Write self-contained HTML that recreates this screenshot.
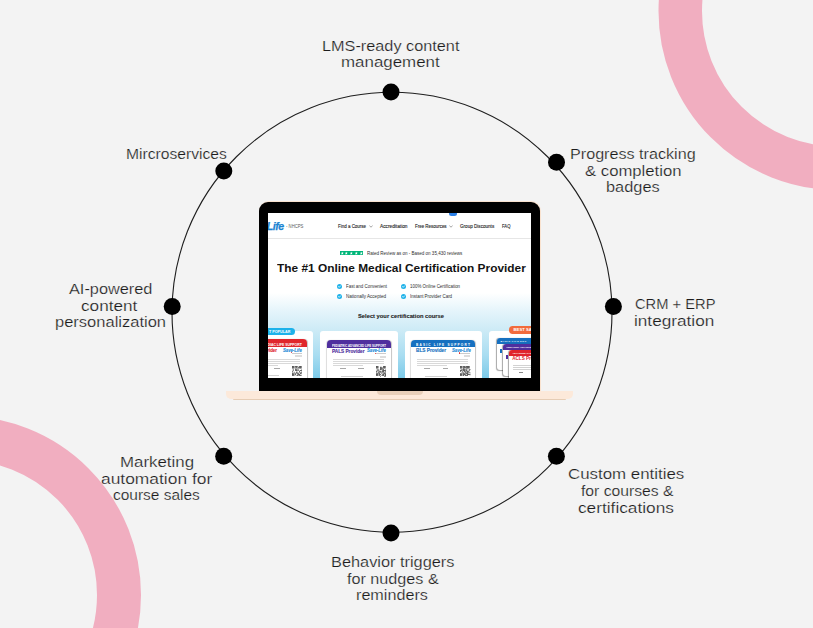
<!DOCTYPE html>
<html><head><meta charset="utf-8">
<style>
html,body{margin:0;padding:0;}
body{width:813px;height:628px;overflow:hidden;background:#f3f3f3;position:relative;font-family:"Liberation Sans",sans-serif;}
svg.bg{position:absolute;left:0;top:0;}
.l{position:absolute;white-space:pre;font-size:15.5px;line-height:20px;color:#1c1c1c;-webkit-text-stroke:0.22px #f3f3f3;transform-origin:0 0;}
.ft{position:absolute;white-space:pre;font-family:"Liberation Sans",sans-serif;transform-origin:0 0;}
.t{position:absolute;white-space:pre;font-size:4.3px;line-height:5px;color:#4a4a4a;}
.card{position:absolute;top:117.7px;height:60px;background:#fff;border-radius:3px;}
.cert{position:absolute;top:126.4px;height:50px;background:#fff;border:0.4px solid #d8d8d8;border-radius:3.5px 3.5px 0 0;overflow:hidden;}
.hd{height:8px;}
.hd2{position:absolute;white-space:pre;font:bold 3.6px/4px 'Liberation Sans';color:#fff;}
.pv{position:absolute;top:135.8px;white-space:pre;font:bold 5px/5px 'Liberation Sans';}
.sl{position:absolute;top:135.4px;white-space:pre;font:italic bold 4.6px/5px 'Liberation Sans';color:#1f86d3;}
.lines{position:absolute;top:146px;height:6px;background:repeating-linear-gradient(#bdbdbd 0 0.5px,transparent 0.5px 1.7px);}
</style></head><body>
<svg class="bg" width="813" height="628" viewBox="0 0 813 628">
  <circle cx="837.5" cy="11" r="157.25" fill="none" stroke="#f1aec0" stroke-width="43.5"/>
  <circle cx="-38" cy="595" r="157" fill="none" stroke="#f1aec0" stroke-width="44"/>
  <circle cx="392" cy="312.3" r="220" fill="none" stroke="#1e1e1e" stroke-width="1.1"/>
  <g fill="#000">
    <circle cx="391" cy="92.1" r="8.5"/>
    <circle cx="556.5" cy="162.2" r="8.5"/>
    <circle cx="613.4" cy="306.4" r="8.5"/>
    <circle cx="556.4" cy="456.2" r="8.5"/>
    <circle cx="391" cy="533.1" r="8.5"/>
    <circle cx="223.7" cy="456.2" r="8.5"/>
    <circle cx="172.2" cy="306.5" r="8.5"/>
    <circle cx="223.8" cy="171" r="8.5"/>
  </g>
</svg>
<div class="l" style="left:321.55px;top:36.0px;transform:scaleX(1.0492)">LMS-ready content</div>
<div class="l" style="left:340.61px;top:52.2px;transform:scaleX(1.0911)">management</div>
<div class="l" style="left:569.66px;top:144.4px;transform:scaleX(1.0420)">Progress tracking</div>
<div class="l" style="left:584.90px;top:161.0px;transform:scaleX(1.0775)">&amp; completion</div>
<div class="l" style="left:605.94px;top:177.2px;transform:scaleX(1.0551)">badges</div>
<div class="l" style="left:125.54px;top:143.9px;transform:scaleX(1.0091)">Mircroservices</div>
<div class="l" style="left:634.60px;top:294.0px;transform:scaleX(0.9482)">CRM + ERP</div>
<div class="l" style="left:634.44px;top:310.6px;transform:scaleX(1.1085)">integration</div>
<div class="l" style="left:68.65px;top:279.2px;transform:scaleX(1.0519)">AI-powered</div>
<div class="l" style="left:81.19px;top:296.2px;transform:scaleX(1.1080)">content</div>
<div class="l" style="left:54.58px;top:312.4px;transform:scaleX(1.0650)">personalization</div>
<div class="l" style="left:119.71px;top:451.6px;transform:scaleX(1.0879)">Marketing</div>
<div class="l" style="left:100.78px;top:468.5px;transform:scaleX(1.1224)">automation for</div>
<div class="l" style="left:113.20px;top:485.0px;transform:scaleX(0.9977)">course sales</div>
<div class="l" style="left:567.71px;top:464.2px;transform:scaleX(1.0886)">Custom entities</div>
<div class="l" style="left:580.50px;top:481.0px;transform:scaleX(1.0132)">for courses &amp;</div>
<div class="l" style="left:577.79px;top:497.8px;transform:scaleX(1.1129)">certifications</div>
<div class="l" style="left:330.95px;top:551.6px;transform:scaleX(1.0534)">Behavior triggers</div>
<div class="l" style="left:347.40px;top:568.5px;transform:scaleX(1.0432)">for nudges &amp;</div>
<div class="l" style="left:356.36px;top:584.8px;transform:scaleX(1.0426)">reminders</div>

<div style="position:absolute;left:258.6px;top:201.4px;width:282.2px;height:189.6px;background:#f9e2cf;border-radius:10px 10px 0 0;"></div>
<div style="position:absolute;left:259.4px;top:202.2px;width:280.6px;height:188.6px;background:#000;border-radius:9px 9px 0 0;"></div>
<div style="position:absolute;left:226px;top:390.7px;width:347px;height:8.6px;background:#fce9da;border-radius:0 0 5px 5px;"></div>
<div style="position:absolute;left:233px;top:398.6px;width:333px;height:1.6px;background:#e6cdb5;border-radius:0 0 3px 3px;"></div>
<div style="position:absolute;left:377px;top:390.7px;width:45.5px;height:4px;background:#e8cfb9;border-radius:0 0 4px 4px;"></div>
<div id="scr" style="position:absolute;left:268px;top:213px;width:263.2px;height:165px;overflow:hidden;background:#fff;">
  <div style="position:absolute;left:0;top:80px;width:264px;height:85px;background:linear-gradient(#fff 0px,#e6f5fb 17px,#cdebf6 37px,#a9ddf1 62px,#7ccae8 85px);"></div>
  <div style="position:absolute;left:0;top:25px;width:264px;height:0.6px;background:#e6e6e6;"></div>
  <div style="position:absolute;left:-1.2px;top:8.4px;font:italic bold 10.6px/10.6px 'Liberation Sans';color:#1a84d2;letter-spacing:-0.5px;-webkit-text-stroke:0.25px #1a84d2;">Life</div>
  <div style="position:absolute;left:180.6px;top:-2px;width:8.2px;height:4.6px;background:#2a7fe6;border-radius:2.5px;"></div>
  <div id="nh" class="ft" style="left:18.00px;top:11.75px;font-size:4.6px;line-height:4.6px;font-weight:normal;color:#5a5a5a;transform:scaleX(0.9211);">- NHCPS</div>
<div id="n1" class="ft" style="left:70.00px;top:10.51px;font-size:5.1px;line-height:5.1px;font-weight:normal;color:#262626;transform:scaleX(0.8750);-webkit-text-stroke:0.12px #262626;">Find a Course</div>
<div id="n2" class="ft" style="left:112.30px;top:10.51px;font-size:5.1px;line-height:5.1px;font-weight:normal;color:#262626;transform:scaleX(0.9337);-webkit-text-stroke:0.12px #262626;">Accreditation</div>
<div id="n3" class="ft" style="left:147.20px;top:10.51px;font-size:5.1px;line-height:5.1px;font-weight:normal;color:#262626;transform:scaleX(0.8717);-webkit-text-stroke:0.12px #262626;">Free Resources</div>
<div id="n4" class="ft" style="left:192.40px;top:10.51px;font-size:5.1px;line-height:5.1px;font-weight:normal;color:#262626;transform:scaleX(0.9014);-webkit-text-stroke:0.12px #262626;">Group Discounts</div>
<div id="n5" class="ft" style="left:234.30px;top:10.51px;font-size:5.1px;line-height:5.1px;font-weight:normal;color:#262626;transform:scaleX(0.8233);-webkit-text-stroke:0.12px #262626;">FAQ</div>
<div id="rt" class="ft" style="left:98.70px;top:38.75px;font-size:4.6px;line-height:4.6px;font-weight:normal;color:#2e2e2e;transform:scaleX(0.9847);">Rated Review as on - Based on 35,430 reviews</div>
<div id="ti" class="ft" style="left:8.70px;top:49.23px;font-size:11.6px;line-height:11.6px;font-weight:bold;color:#131313;transform:scaleX(1.0243);">The #1 Online Medical Certification Provider</div>
<div id="f1" class="ft" style="left:78.00px;top:72.25px;font-size:4.6px;line-height:4.6px;font-weight:normal;color:#2e2e2e;transform:scaleX(0.9668);">Fast and Convenient</div>
<div id="f2" class="ft" style="left:78.00px;top:82.45px;font-size:4.6px;line-height:4.6px;font-weight:normal;color:#2e2e2e;transform:scaleX(0.9911);">Nationally Accepted</div>
<div id="f3" class="ft" style="left:141.90px;top:72.25px;font-size:4.6px;line-height:4.6px;font-weight:normal;color:#2e2e2e;transform:scaleX(0.9663);">100% Online Certification</div>
<div id="f4" class="ft" style="left:141.90px;top:82.45px;font-size:4.6px;line-height:4.6px;font-weight:normal;color:#2e2e2e;transform:scaleX(0.9699);">Instant Provider Card</div>
<div id="sc" class="ft" style="left:89.90px;top:100.37px;font-size:6.2px;line-height:6.2px;font-weight:bold;color:#1a1a1a;transform:scaleX(0.9330);-webkit-text-stroke:0.1px #1a1a1a;">Select your certification course</div>
  <svg style="position:absolute;left:101.00px;top:12.00px" width="4" height="3" viewBox="0 0 4 3"><path d="M0.4 0.7 L2 2.2 L3.6 0.7" fill="none" stroke="#555" stroke-width="0.55"/></svg><svg style="position:absolute;left:181.00px;top:12.00px" width="4" height="3" viewBox="0 0 4 3"><path d="M0.4 0.7 L2 2.2 L3.6 0.7" fill="none" stroke="#555" stroke-width="0.55"/></svg>
  <div style="position:absolute;left:71.60px;top:37.90px;width:4.62px;height:4.4px;background:#00b67a;"><svg width="4.62" height="4.4" viewBox="0 0 10 10" style="position:absolute;left:0;top:0"><path d="M5 1.8 L5.9 4.1 L8.4 4.2 L6.5 5.8 L7.1 8.3 L5 6.9 L2.9 8.3 L3.5 5.8 L1.6 4.2 L4.1 4.1Z" fill="#fff"/></svg></div><div style="position:absolute;left:76.42px;top:37.90px;width:4.62px;height:4.4px;background:#00b67a;"><svg width="4.62" height="4.4" viewBox="0 0 10 10" style="position:absolute;left:0;top:0"><path d="M5 1.8 L5.9 4.1 L8.4 4.2 L6.5 5.8 L7.1 8.3 L5 6.9 L2.9 8.3 L3.5 5.8 L1.6 4.2 L4.1 4.1Z" fill="#fff"/></svg></div><div style="position:absolute;left:81.24px;top:37.90px;width:4.62px;height:4.4px;background:#00b67a;"><svg width="4.62" height="4.4" viewBox="0 0 10 10" style="position:absolute;left:0;top:0"><path d="M5 1.8 L5.9 4.1 L8.4 4.2 L6.5 5.8 L7.1 8.3 L5 6.9 L2.9 8.3 L3.5 5.8 L1.6 4.2 L4.1 4.1Z" fill="#fff"/></svg></div><div style="position:absolute;left:86.06px;top:37.90px;width:4.62px;height:4.4px;background:#00b67a;"><svg width="4.62" height="4.4" viewBox="0 0 10 10" style="position:absolute;left:0;top:0"><path d="M5 1.8 L5.9 4.1 L8.4 4.2 L6.5 5.8 L7.1 8.3 L5 6.9 L2.9 8.3 L3.5 5.8 L1.6 4.2 L4.1 4.1Z" fill="#fff"/></svg></div><div style="position:absolute;left:90.88px;top:37.90px;width:4.62px;height:4.4px;background:#00b67a;"><svg width="4.62" height="4.4" viewBox="0 0 10 10" style="position:absolute;left:0;top:0"><path d="M5 1.8 L5.9 4.1 L8.4 4.2 L6.5 5.8 L7.1 8.3 L5 6.9 L2.9 8.3 L3.5 5.8 L1.6 4.2 L4.1 4.1Z" fill="#fff"/></svg></div>
  <svg style="position:absolute;left:69.10px;top:70.80px" width="5" height="5" viewBox="0 0 10 10"><circle cx="5" cy="5" r="5" fill="#1db1e9"/><path d="M2.9 5.1 L4.4 6.6 L7.2 3.7" fill="none" stroke="#fff" stroke-width="1.6" stroke-linecap="round" stroke-linejoin="round"/></svg><svg style="position:absolute;left:69.10px;top:81.00px" width="5" height="5" viewBox="0 0 10 10"><circle cx="5" cy="5" r="5" fill="#1db1e9"/><path d="M2.9 5.1 L4.4 6.6 L7.2 3.7" fill="none" stroke="#fff" stroke-width="1.6" stroke-linecap="round" stroke-linejoin="round"/></svg><svg style="position:absolute;left:133.00px;top:70.80px" width="5" height="5" viewBox="0 0 10 10"><circle cx="5" cy="5" r="5" fill="#1db1e9"/><path d="M2.9 5.1 L4.4 6.6 L7.2 3.7" fill="none" stroke="#fff" stroke-width="1.6" stroke-linecap="round" stroke-linejoin="round"/></svg><svg style="position:absolute;left:133.00px;top:81.00px" width="5" height="5" viewBox="0 0 10 10"><circle cx="5" cy="5" r="5" fill="#1db1e9"/><path d="M2.9 5.1 L4.4 6.6 L7.2 3.7" fill="none" stroke="#fff" stroke-width="1.6" stroke-linecap="round" stroke-linejoin="round"/></svg>
  <div class="card" style="left:-20px;width:65px;"></div>
  <div class="card" style="left:52.3px;width:77.3px;"></div>
  <div class="card" style="left:136.7px;width:77px;"></div>
  <div style="position:absolute;left:-10px;top:114.7px;width:36.5px;height:7.2px;background:#1db2ea;border-radius:3.6px;"></div>
  <div id="mp" class="ft" style="left:0.6px;top:116.6px;font:bold 4.4px/4.4px 'Liberation Sans';color:#fff;transform:scaleX(0.8394);">T POPULAR</div>
  <div style="position:absolute;left:-25.10px;top:126.40px;width:63.7px;height:40px;background:#fff;border-radius:4px 4px 0 0;box-shadow:0.6px 0 0.8px rgba(0,0,0,.22),-0.6px 0 0.8px rgba(0,0,0,.12);"></div><div style="position:absolute;left:-25.10px;top:126.40px;width:63.7px;height:7.7px;background:#e0262c;border-radius:4px 4px 0 0;"></div><div id="c1h" class="ft" style="left:-8.00px;top:131.00px;font:bold 3.3px/3.3px Liberation Sans;color:#fff;transform:scaleX(1.0443);">CARDIAC LIFE SUPPORT</div><div id="c1p" class="ft" style="left:-21.60px;top:134.90px;font:bold 5.6px/5.6px Liberation Sans;color:#e0262c;-webkit-text-stroke:0.15px #e0262c;transform:scaleX(0.7852);">ACLS Provider</div><div id="c1s" class="ft" style="left:15.20px;top:135.60px;font:italic bold 4.6px/4.6px Liberation Sans;color:#1d8ad6;-webkit-text-stroke:0.12px #1d8ad6;transform:scaleX(0.9199);">Save-Life</div><div style="position:absolute;left:22.50px;top:139.20px;width:1.3px;height:1.3px;border-radius:50%;background:#e0262c;"></div><div style="position:absolute;left:23.90px;top:139.80px;width:10px;height:0.4px;background:#ccc;"></div><div style="position:absolute;left:27.40px;top:141.90px;width:6.5px;height:1.6px;border:0.3px solid #ddd;box-sizing:border-box;background:linear-gradient(#fff 0 0.5px,#aaa 0.5px 1.1px,#fff 1.1px);"></div><div style="position:absolute;left:-19.70px;top:145.50px;width:51.6px;height:0.6px;background:#d9d9d9;"></div><div style="position:absolute;left:-19.70px;top:147.60px;width:51.6px;height:0.6px;background:#d9d9d9;"></div><div style="position:absolute;left:-19.70px;top:149.70px;width:51.6px;height:0.6px;background:#d9d9d9;"></div><div style="position:absolute;left:-19.70px;top:151.80px;width:30px;height:0.6px;background:#d9d9d9;"></div><div style="position:absolute;left:-12.50px;top:154.60px;width:6.2px;height:0.8px;background:#a8a8a8;"></div><div style="position:absolute;left:6.10px;top:154.60px;width:5.8px;height:0.8px;background:#a8a8a8;"></div><div style="position:absolute;left:-11.10px;top:162.40px;width:22px;height:0.5px;background:#d0d0d0;"></div><svg style="position:absolute;left:23.80px;top:152.70px" width="10.4" height="10.6" viewBox="0 0 13 13" preserveAspectRatio="none"><g fill="#2a2a2a"><rect x="0" y="0" width="1.02" height="1.02"/><rect x="1" y="0" width="1.02" height="1.02"/><rect x="2" y="0" width="1.02" height="1.02"/><rect x="4" y="0" width="1.02" height="1.02"/><rect x="5" y="0" width="1.02" height="1.02"/><rect x="6" y="0" width="1.02" height="1.02"/><rect x="9" y="0" width="1.02" height="1.02"/><rect x="10" y="0" width="1.02" height="1.02"/><rect x="11" y="0" width="1.02" height="1.02"/><rect x="0" y="1" width="1.02" height="1.02"/><rect x="1" y="1" width="1.02" height="1.02"/><rect x="2" y="1" width="1.02" height="1.02"/><rect x="4" y="1" width="1.02" height="1.02"/><rect x="5" y="1" width="1.02" height="1.02"/><rect x="7" y="1" width="1.02" height="1.02"/><rect x="8" y="1" width="1.02" height="1.02"/><rect x="9" y="1" width="1.02" height="1.02"/><rect x="10" y="1" width="1.02" height="1.02"/><rect x="11" y="1" width="1.02" height="1.02"/><rect x="0" y="2" width="1.02" height="1.02"/><rect x="1" y="2" width="1.02" height="1.02"/><rect x="2" y="2" width="1.02" height="1.02"/><rect x="5" y="2" width="1.02" height="1.02"/><rect x="7" y="2" width="1.02" height="1.02"/><rect x="9" y="2" width="1.02" height="1.02"/><rect x="10" y="2" width="1.02" height="1.02"/><rect x="11" y="2" width="1.02" height="1.02"/><rect x="4" y="3" width="1.02" height="1.02"/><rect x="7" y="3" width="1.02" height="1.02"/><rect x="1" y="4" width="1.02" height="1.02"/><rect x="4" y="4" width="1.02" height="1.02"/><rect x="5" y="4" width="1.02" height="1.02"/><rect x="7" y="4" width="1.02" height="1.02"/><rect x="12" y="4" width="1.02" height="1.02"/><rect x="1" y="5" width="1.02" height="1.02"/><rect x="4" y="5" width="1.02" height="1.02"/><rect x="5" y="5" width="1.02" height="1.02"/><rect x="6" y="5" width="1.02" height="1.02"/><rect x="8" y="5" width="1.02" height="1.02"/><rect x="10" y="5" width="1.02" height="1.02"/><rect x="11" y="5" width="1.02" height="1.02"/><rect x="12" y="5" width="1.02" height="1.02"/><rect x="0" y="6" width="1.02" height="1.02"/><rect x="9" y="6" width="1.02" height="1.02"/><rect x="2" y="7" width="1.02" height="1.02"/><rect x="5" y="7" width="1.02" height="1.02"/><rect x="6" y="7" width="1.02" height="1.02"/><rect x="9" y="7" width="1.02" height="1.02"/><rect x="11" y="7" width="1.02" height="1.02"/><rect x="12" y="7" width="1.02" height="1.02"/><rect x="0" y="8" width="1.02" height="1.02"/><rect x="3" y="8" width="1.02" height="1.02"/><rect x="5" y="8" width="1.02" height="1.02"/><rect x="7" y="8" width="1.02" height="1.02"/><rect x="10" y="8" width="1.02" height="1.02"/><rect x="12" y="8" width="1.02" height="1.02"/><rect x="0" y="9" width="1.02" height="1.02"/><rect x="1" y="9" width="1.02" height="1.02"/><rect x="2" y="9" width="1.02" height="1.02"/><rect x="4" y="9" width="1.02" height="1.02"/><rect x="6" y="9" width="1.02" height="1.02"/><rect x="7" y="9" width="1.02" height="1.02"/><rect x="8" y="9" width="1.02" height="1.02"/><rect x="10" y="9" width="1.02" height="1.02"/><rect x="11" y="9" width="1.02" height="1.02"/><rect x="0" y="10" width="1.02" height="1.02"/><rect x="1" y="10" width="1.02" height="1.02"/><rect x="2" y="10" width="1.02" height="1.02"/><rect x="4" y="10" width="1.02" height="1.02"/><rect x="7" y="10" width="1.02" height="1.02"/><rect x="8" y="10" width="1.02" height="1.02"/><rect x="9" y="10" width="1.02" height="1.02"/><rect x="0" y="11" width="1.02" height="1.02"/><rect x="1" y="11" width="1.02" height="1.02"/><rect x="2" y="11" width="1.02" height="1.02"/><rect x="6" y="11" width="1.02" height="1.02"/><rect x="7" y="11" width="1.02" height="1.02"/><rect x="9" y="11" width="1.02" height="1.02"/><rect x="10" y="11" width="1.02" height="1.02"/><rect x="12" y="11" width="1.02" height="1.02"/><rect x="4" y="12" width="1.02" height="1.02"/><rect x="5" y="12" width="1.02" height="1.02"/><rect x="6" y="12" width="1.02" height="1.02"/><rect x="8" y="12" width="1.02" height="1.02"/><rect x="11" y="12" width="1.02" height="1.02"/></g></svg>
  <div style="position:absolute;left:59.10px;top:127.00px;width:63.7px;height:40px;background:#fff;border-radius:4px 4px 0 0;box-shadow:0.6px 0 0.8px rgba(0,0,0,.22),-0.6px 0 0.8px rgba(0,0,0,.12);"></div><div style="position:absolute;left:59.10px;top:127.00px;width:63.7px;height:7.7px;background:#4f2f9e;border-radius:4px 4px 0 0;"></div><div id="c2h" class="ft" style="left:64.10px;top:131.60px;font:bold 3.3px/3.3px Liberation Sans;color:#fff;transform:scaleX(0.8756);">PEDIATRIC ADVANCED LIFE SUPPORT</div><div id="c2p" class="ft" style="left:64.10px;top:135.50px;font:bold 5.6px/5.6px Liberation Sans;color:#4f2f9e;-webkit-text-stroke:0.15px #4f2f9e;transform:scaleX(0.8384);">PALS Provider</div><div id="c2s" class="ft" style="left:99.40px;top:136.20px;font:italic bold 4.6px/4.6px Liberation Sans;color:#1d8ad6;-webkit-text-stroke:0.12px #1d8ad6;transform:scaleX(0.9199);">Save-Life</div><div style="position:absolute;left:106.70px;top:139.80px;width:1.3px;height:1.3px;border-radius:50%;background:#e0262c;"></div><div style="position:absolute;left:108.10px;top:140.40px;width:10px;height:0.4px;background:#ccc;"></div><div style="position:absolute;left:111.60px;top:142.50px;width:6.5px;height:1.6px;border:0.3px solid #ddd;box-sizing:border-box;background:linear-gradient(#fff 0 0.5px,#aaa 0.5px 1.1px,#fff 1.1px);"></div><div style="position:absolute;left:64.50px;top:146.10px;width:51.6px;height:0.6px;background:#d9d9d9;"></div><div style="position:absolute;left:64.50px;top:148.20px;width:51.6px;height:0.6px;background:#d9d9d9;"></div><div style="position:absolute;left:64.50px;top:150.30px;width:51.6px;height:0.6px;background:#d9d9d9;"></div><div style="position:absolute;left:64.50px;top:152.40px;width:30px;height:0.6px;background:#d9d9d9;"></div><div style="position:absolute;left:71.70px;top:155.20px;width:6.2px;height:0.8px;background:#a8a8a8;"></div><div style="position:absolute;left:90.30px;top:155.20px;width:5.8px;height:0.8px;background:#a8a8a8;"></div><div style="position:absolute;left:73.10px;top:163.00px;width:22px;height:0.5px;background:#d0d0d0;"></div><svg style="position:absolute;left:108.00px;top:153.30px" width="10.4" height="10.6" viewBox="0 0 13 13" preserveAspectRatio="none"><g fill="#2a2a2a"><rect x="0" y="0" width="1.02" height="1.02"/><rect x="1" y="0" width="1.02" height="1.02"/><rect x="2" y="0" width="1.02" height="1.02"/><rect x="9" y="0" width="1.02" height="1.02"/><rect x="10" y="0" width="1.02" height="1.02"/><rect x="11" y="0" width="1.02" height="1.02"/><rect x="0" y="1" width="1.02" height="1.02"/><rect x="1" y="1" width="1.02" height="1.02"/><rect x="2" y="1" width="1.02" height="1.02"/><rect x="5" y="1" width="1.02" height="1.02"/><rect x="6" y="1" width="1.02" height="1.02"/><rect x="9" y="1" width="1.02" height="1.02"/><rect x="10" y="1" width="1.02" height="1.02"/><rect x="11" y="1" width="1.02" height="1.02"/><rect x="0" y="2" width="1.02" height="1.02"/><rect x="1" y="2" width="1.02" height="1.02"/><rect x="2" y="2" width="1.02" height="1.02"/><rect x="5" y="2" width="1.02" height="1.02"/><rect x="6" y="2" width="1.02" height="1.02"/><rect x="7" y="2" width="1.02" height="1.02"/><rect x="8" y="2" width="1.02" height="1.02"/><rect x="9" y="2" width="1.02" height="1.02"/><rect x="10" y="2" width="1.02" height="1.02"/><rect x="11" y="2" width="1.02" height="1.02"/><rect x="5" y="3" width="1.02" height="1.02"/><rect x="6" y="3" width="1.02" height="1.02"/><rect x="7" y="3" width="1.02" height="1.02"/><rect x="1" y="4" width="1.02" height="1.02"/><rect x="3" y="4" width="1.02" height="1.02"/><rect x="5" y="4" width="1.02" height="1.02"/><rect x="6" y="4" width="1.02" height="1.02"/><rect x="8" y="4" width="1.02" height="1.02"/><rect x="9" y="4" width="1.02" height="1.02"/><rect x="12" y="4" width="1.02" height="1.02"/><rect x="1" y="5" width="1.02" height="1.02"/><rect x="3" y="5" width="1.02" height="1.02"/><rect x="8" y="5" width="1.02" height="1.02"/><rect x="9" y="5" width="1.02" height="1.02"/><rect x="10" y="5" width="1.02" height="1.02"/><rect x="11" y="5" width="1.02" height="1.02"/><rect x="12" y="5" width="1.02" height="1.02"/><rect x="0" y="6" width="1.02" height="1.02"/><rect x="2" y="6" width="1.02" height="1.02"/><rect x="4" y="6" width="1.02" height="1.02"/><rect x="5" y="6" width="1.02" height="1.02"/><rect x="7" y="6" width="1.02" height="1.02"/><rect x="8" y="6" width="1.02" height="1.02"/><rect x="9" y="6" width="1.02" height="1.02"/><rect x="11" y="6" width="1.02" height="1.02"/><rect x="0" y="7" width="1.02" height="1.02"/><rect x="3" y="7" width="1.02" height="1.02"/><rect x="5" y="7" width="1.02" height="1.02"/><rect x="7" y="7" width="1.02" height="1.02"/><rect x="8" y="7" width="1.02" height="1.02"/><rect x="9" y="7" width="1.02" height="1.02"/><rect x="11" y="7" width="1.02" height="1.02"/><rect x="2" y="8" width="1.02" height="1.02"/><rect x="3" y="8" width="1.02" height="1.02"/><rect x="4" y="8" width="1.02" height="1.02"/><rect x="6" y="8" width="1.02" height="1.02"/><rect x="10" y="8" width="1.02" height="1.02"/><rect x="12" y="8" width="1.02" height="1.02"/><rect x="0" y="9" width="1.02" height="1.02"/><rect x="1" y="9" width="1.02" height="1.02"/><rect x="2" y="9" width="1.02" height="1.02"/><rect x="4" y="9" width="1.02" height="1.02"/><rect x="7" y="9" width="1.02" height="1.02"/><rect x="9" y="9" width="1.02" height="1.02"/><rect x="10" y="9" width="1.02" height="1.02"/><rect x="11" y="9" width="1.02" height="1.02"/><rect x="12" y="9" width="1.02" height="1.02"/><rect x="0" y="10" width="1.02" height="1.02"/><rect x="1" y="10" width="1.02" height="1.02"/><rect x="2" y="10" width="1.02" height="1.02"/><rect x="4" y="10" width="1.02" height="1.02"/><rect x="5" y="10" width="1.02" height="1.02"/><rect x="8" y="10" width="1.02" height="1.02"/><rect x="9" y="10" width="1.02" height="1.02"/><rect x="11" y="10" width="1.02" height="1.02"/><rect x="12" y="10" width="1.02" height="1.02"/><rect x="0" y="11" width="1.02" height="1.02"/><rect x="1" y="11" width="1.02" height="1.02"/><rect x="2" y="11" width="1.02" height="1.02"/><rect x="4" y="11" width="1.02" height="1.02"/><rect x="7" y="11" width="1.02" height="1.02"/><rect x="8" y="11" width="1.02" height="1.02"/><rect x="9" y="11" width="1.02" height="1.02"/><rect x="11" y="11" width="1.02" height="1.02"/><rect x="12" y="11" width="1.02" height="1.02"/><rect x="5" y="12" width="1.02" height="1.02"/><rect x="10" y="12" width="1.02" height="1.02"/><rect x="11" y="12" width="1.02" height="1.02"/><rect x="12" y="12" width="1.02" height="1.02"/></g></svg>
  <div style="position:absolute;left:143.30px;top:126.60px;width:63.7px;height:40px;background:#fff;border-radius:4px 4px 0 0;box-shadow:0.6px 0 0.8px rgba(0,0,0,.22),-0.6px 0 0.8px rgba(0,0,0,.12);"></div><div style="position:absolute;left:143.30px;top:126.60px;width:63.7px;height:7.7px;background:#1670c0;border-radius:4px 4px 0 0;"></div><div id="c3h" class="ft" style="left:148.30px;top:131.20px;font:bold 3.3px/3.3px Liberation Sans;color:#fff;letter-spacing:1.25px;transform:scaleX(0.9537);">BASIC LIFE SUPPORT</div><div id="c3p" class="ft" style="left:148.30px;top:135.10px;font:bold 5.6px/5.6px Liberation Sans;color:#1670c0;-webkit-text-stroke:0.15px #1670c0;transform:scaleX(0.8466);">BLS Provider</div><div id="c3s" class="ft" style="left:183.60px;top:135.80px;font:italic bold 4.6px/4.6px Liberation Sans;color:#1d8ad6;-webkit-text-stroke:0.12px #1d8ad6;transform:scaleX(0.9199);">Save-Life</div><div style="position:absolute;left:190.90px;top:139.40px;width:1.3px;height:1.3px;border-radius:50%;background:#e0262c;"></div><div style="position:absolute;left:192.30px;top:140.00px;width:10px;height:0.4px;background:#ccc;"></div><div style="position:absolute;left:195.80px;top:142.10px;width:6.5px;height:1.6px;border:0.3px solid #ddd;box-sizing:border-box;background:linear-gradient(#fff 0 0.5px,#aaa 0.5px 1.1px,#fff 1.1px);"></div><div style="position:absolute;left:148.70px;top:145.70px;width:51.6px;height:0.6px;background:#d9d9d9;"></div><div style="position:absolute;left:148.70px;top:147.80px;width:51.6px;height:0.6px;background:#d9d9d9;"></div><div style="position:absolute;left:148.70px;top:149.90px;width:51.6px;height:0.6px;background:#d9d9d9;"></div><div style="position:absolute;left:148.70px;top:152.00px;width:30px;height:0.6px;background:#d9d9d9;"></div><div style="position:absolute;left:155.90px;top:154.80px;width:6.2px;height:0.8px;background:#a8a8a8;"></div><div style="position:absolute;left:174.50px;top:154.80px;width:5.8px;height:0.8px;background:#a8a8a8;"></div><div style="position:absolute;left:157.30px;top:162.60px;width:22px;height:0.5px;background:#d0d0d0;"></div><svg style="position:absolute;left:192.20px;top:152.90px" width="10.4" height="10.6" viewBox="0 0 13 13" preserveAspectRatio="none"><g fill="#2a2a2a"><rect x="0" y="0" width="1.02" height="1.02"/><rect x="1" y="0" width="1.02" height="1.02"/><rect x="2" y="0" width="1.02" height="1.02"/><rect x="4" y="0" width="1.02" height="1.02"/><rect x="5" y="0" width="1.02" height="1.02"/><rect x="7" y="0" width="1.02" height="1.02"/><rect x="8" y="0" width="1.02" height="1.02"/><rect x="9" y="0" width="1.02" height="1.02"/><rect x="10" y="0" width="1.02" height="1.02"/><rect x="11" y="0" width="1.02" height="1.02"/><rect x="0" y="1" width="1.02" height="1.02"/><rect x="1" y="1" width="1.02" height="1.02"/><rect x="2" y="1" width="1.02" height="1.02"/><rect x="4" y="1" width="1.02" height="1.02"/><rect x="5" y="1" width="1.02" height="1.02"/><rect x="6" y="1" width="1.02" height="1.02"/><rect x="7" y="1" width="1.02" height="1.02"/><rect x="8" y="1" width="1.02" height="1.02"/><rect x="9" y="1" width="1.02" height="1.02"/><rect x="10" y="1" width="1.02" height="1.02"/><rect x="11" y="1" width="1.02" height="1.02"/><rect x="0" y="2" width="1.02" height="1.02"/><rect x="1" y="2" width="1.02" height="1.02"/><rect x="2" y="2" width="1.02" height="1.02"/><rect x="4" y="2" width="1.02" height="1.02"/><rect x="5" y="2" width="1.02" height="1.02"/><rect x="6" y="2" width="1.02" height="1.02"/><rect x="8" y="2" width="1.02" height="1.02"/><rect x="9" y="2" width="1.02" height="1.02"/><rect x="10" y="2" width="1.02" height="1.02"/><rect x="11" y="2" width="1.02" height="1.02"/><rect x="4" y="3" width="1.02" height="1.02"/><rect x="8" y="3" width="1.02" height="1.02"/><rect x="1" y="4" width="1.02" height="1.02"/><rect x="3" y="4" width="1.02" height="1.02"/><rect x="4" y="4" width="1.02" height="1.02"/><rect x="5" y="4" width="1.02" height="1.02"/><rect x="6" y="4" width="1.02" height="1.02"/><rect x="8" y="4" width="1.02" height="1.02"/><rect x="11" y="4" width="1.02" height="1.02"/><rect x="12" y="4" width="1.02" height="1.02"/><rect x="0" y="5" width="1.02" height="1.02"/><rect x="1" y="5" width="1.02" height="1.02"/><rect x="2" y="5" width="1.02" height="1.02"/><rect x="4" y="5" width="1.02" height="1.02"/><rect x="5" y="5" width="1.02" height="1.02"/><rect x="7" y="5" width="1.02" height="1.02"/><rect x="8" y="5" width="1.02" height="1.02"/><rect x="11" y="5" width="1.02" height="1.02"/><rect x="0" y="6" width="1.02" height="1.02"/><rect x="3" y="6" width="1.02" height="1.02"/><rect x="5" y="6" width="1.02" height="1.02"/><rect x="6" y="6" width="1.02" height="1.02"/><rect x="8" y="6" width="1.02" height="1.02"/><rect x="9" y="6" width="1.02" height="1.02"/><rect x="10" y="6" width="1.02" height="1.02"/><rect x="2" y="7" width="1.02" height="1.02"/><rect x="6" y="7" width="1.02" height="1.02"/><rect x="9" y="7" width="1.02" height="1.02"/><rect x="11" y="7" width="1.02" height="1.02"/><rect x="3" y="8" width="1.02" height="1.02"/><rect x="4" y="8" width="1.02" height="1.02"/><rect x="6" y="8" width="1.02" height="1.02"/><rect x="7" y="8" width="1.02" height="1.02"/><rect x="8" y="8" width="1.02" height="1.02"/><rect x="9" y="8" width="1.02" height="1.02"/><rect x="10" y="8" width="1.02" height="1.02"/><rect x="12" y="8" width="1.02" height="1.02"/><rect x="0" y="9" width="1.02" height="1.02"/><rect x="1" y="9" width="1.02" height="1.02"/><rect x="2" y="9" width="1.02" height="1.02"/><rect x="4" y="9" width="1.02" height="1.02"/><rect x="5" y="9" width="1.02" height="1.02"/><rect x="7" y="9" width="1.02" height="1.02"/><rect x="8" y="9" width="1.02" height="1.02"/><rect x="9" y="9" width="1.02" height="1.02"/><rect x="0" y="10" width="1.02" height="1.02"/><rect x="1" y="10" width="1.02" height="1.02"/><rect x="2" y="10" width="1.02" height="1.02"/><rect x="4" y="10" width="1.02" height="1.02"/><rect x="5" y="10" width="1.02" height="1.02"/><rect x="6" y="10" width="1.02" height="1.02"/><rect x="9" y="10" width="1.02" height="1.02"/><rect x="10" y="10" width="1.02" height="1.02"/><rect x="11" y="10" width="1.02" height="1.02"/><rect x="12" y="10" width="1.02" height="1.02"/><rect x="0" y="11" width="1.02" height="1.02"/><rect x="1" y="11" width="1.02" height="1.02"/><rect x="2" y="11" width="1.02" height="1.02"/><rect x="4" y="11" width="1.02" height="1.02"/><rect x="6" y="11" width="1.02" height="1.02"/><rect x="7" y="11" width="1.02" height="1.02"/><rect x="8" y="11" width="1.02" height="1.02"/><rect x="9" y="11" width="1.02" height="1.02"/><rect x="4" y="12" width="1.02" height="1.02"/><rect x="7" y="12" width="1.02" height="1.02"/><rect x="12" y="12" width="1.02" height="1.02"/></g></svg>
  <div class="card" style="left:221.10px;width:60px;"></div><div style="position:absolute;left:241.00px;top:113.20px;width:40px;height:7.4px;background:#f26b3c;border-radius:3.7px;"></div><div class="ft" style="left:245.60px;top:114.90px;font:bold 4.2px/4.2px 'Liberation Sans';color:#fff;">BEST SAVINGS</div><div style="position:absolute;left:229.40px;top:125.20px;width:45px;height:31.40px;background:#fff;border-radius:3px;box-shadow:-0.3px 0.6px 1px rgba(0,0,0,.35);"></div><div style="position:absolute;left:229.40px;top:125.20px;width:45px;height:5.5px;background:#1670c0;border-radius:3px 3px 0 0;"></div><div class="ft" style="left:232.40px;top:127.80px;font:bold 2.4px/2.4px Liberation Sans;color:#fff;">B A S I C  L I F E  S U P</div><div style="position:absolute;left:235.40px;top:131.20px;width:45px;height:31.40px;background:#fff;border-radius:3px;box-shadow:-0.3px 0.6px 1px rgba(0,0,0,.35);"></div><div style="position:absolute;left:235.40px;top:131.20px;width:45px;height:5.5px;background:#4f2f9e;border-radius:3px 3px 0 0;"></div><div class="ft" style="left:238.40px;top:133.80px;font:bold 2.4px/2.4px Liberation Sans;color:#fff;">PEDIATRIC ADVANCED LIFE</div><div style="position:absolute;left:241.40px;top:137.20px;width:45px;height:29.80px;background:#fff;border-radius:3px;box-shadow:-0.3px 0.6px 1px rgba(0,0,0,.35);"></div><div style="position:absolute;left:241.40px;top:137.20px;width:45px;height:5.5px;background:#e0262c;border-radius:3px 3px 0 0;"></div><div class="ft" style="left:244.40px;top:139.80px;font:bold 2.4px/2.4px Liberation Sans;color:#fff;">ADVANCED CARDIAC LIFE</div><div class="ft" style="left:244.20px;top:144.00px;font:bold 4.6px/4.6px 'Liberation Sans';color:#e0262c;">ACLS Provider</div><div style="position:absolute;left:231.50px;top:136.00px;width:2px;height:3.5px;background:#1670c0;"></div><div style="position:absolute;left:237.50px;top:142.00px;width:2px;height:3.5px;background:#4f2f9e;"></div><div style="position:absolute;left:245.00px;top:152.40px;width:20px;height:0.5px;background:#d2d2d2;"></div><div style="position:absolute;left:245.00px;top:154.20px;width:20px;height:0.5px;background:#d2d2d2;"></div><div style="position:absolute;left:245.00px;top:156.00px;width:20px;height:0.5px;background:#d2d2d2;"></div><div style="position:absolute;left:251.00px;top:159.00px;width:4px;height:0.7px;background:#888;"></div>
</div>

</body></html>
